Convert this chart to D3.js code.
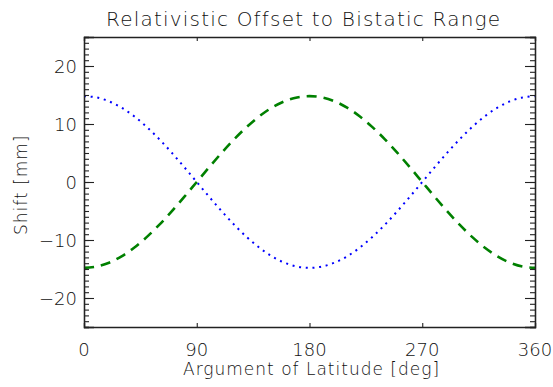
<!DOCTYPE html>
<html><head><meta charset="utf-8">
<script src="https://cdn.jsdelivr.net/npm/d3@7"></script>
<style>
body{margin:0;background:#fff;}
text{font-family:"DejaVu Sans",sans-serif;font-weight:200;fill:#111;}
</style></head>
<body><svg id="c" width="553" height="387"></svg>
<script>
const latitude = [0,10,20,30,40,50,60,70,80,90,100,110,120,130,140,150,160,170,180,190,200,210,220,230,240,250,260,270,280,290,300,310,320,330,340,350,360];
const blueShift = [14.8,14.58,13.91,12.82,11.34,9.51,7.4,5.06,2.57,0,-2.57,-5.06,-7.4,-9.51,-11.34,-12.82,-13.91,-14.58,-14.8,-14.58,-13.91,-12.82,-11.34,-9.51,-7.4,-5.06,-2.57,0,2.57,5.06,7.4,9.51,11.34,12.82,13.91,14.58,14.8];
const greenShift = [-14.8,-14.58,-13.91,-12.82,-11.34,-9.51,-7.4,-5.06,-2.57,0,2.57,5.06,7.4,9.51,11.34,12.82,13.91,14.58,14.8,14.58,13.91,12.82,11.34,9.51,7.4,5.06,2.57,0,-2.57,-5.06,-7.4,-9.51,-11.34,-12.82,-13.91,-14.58,-14.8];
const xTicks = [0,90,180,270,360];
const yTicks = [-20,-10,0,10,20];
const title = "Relativistic Offset to Bistatic Range";
const xLabel = "Argument of Latitude [deg]";
const yLabel = "Shift [mm]";

const L=84,R=535,T=37,B=327;
const svg=d3.select("#c");
const x=d3.scaleLinear().domain([0,360]).range([L,R]);
const y=d3.scaleLinear().domain([-25,25]).range([B,T]);
const axColor="#222";

// lines
const mk=(vals)=>d3.line().x((d,i)=>x(latitude[i])).y(d=>y(d)).curve(d3.curveCatmullRom)(vals);
svg.append("path").attr("d",mk(blueShift)).attr("fill","none").attr("stroke","#0000ff")
  .attr("stroke-width",2).attr("stroke-dasharray","2,4.7");
svg.append("path").attr("d",mk(greenShift)).attr("fill","none").attr("stroke","#008000")
  .attr("stroke-width",2.6).attr("stroke-dasharray","10,7");

// axes
const yMinor=d3.range(-25,26,1);
svg.append("g").attr("transform",`translate(0,${B})`).call(d3.axisBottom(x).tickValues(xTicks).tickSize(-4).tickFormat(""));
svg.append("g").attr("transform",`translate(0,${T})`).call(d3.axisTop(x).tickValues(xTicks).tickSize(-4).tickFormat(""));
svg.append("g").attr("transform",`translate(${L},0)`).call(d3.axisLeft(y).tickValues(yMinor).tickSize(-5).tickFormat(""));
svg.append("g").attr("transform",`translate(${L},0)`).call(d3.axisLeft(y).tickValues(yTicks).tickSize(-10).tickFormat(""));
svg.append("g").attr("transform",`translate(${R},0)`).call(d3.axisRight(y).tickValues(yMinor).tickSize(-5).tickFormat(""));
svg.append("g").attr("transform",`translate(${R},0)`).call(d3.axisRight(y).tickValues(yTicks).tickSize(-10).tickFormat(""));
svg.selectAll(".domain").attr("stroke",axColor).attr("stroke-width",1.3);
svg.selectAll(".tick line").attr("stroke",axColor).attr("stroke-width",1.1);

// tick labels
svg.append("g").selectAll("text").data(xTicks).join("text")
  .attr("x",d=>x(d)).attr("y",356).attr("text-anchor","middle")
  .attr("font-size",18).text(d=>d);
svg.append("g").selectAll("text").data(yTicks).join("text")
  .attr("x",77).attr("y",d=>y(d)+6.5).attr("text-anchor","end")
  .attr("font-size",18).text(d=>d<0?"\u2212"+Math.abs(d):d);

svg.append("text").attr("x",106).attr("y",26).attr("text-anchor","start")
  .attr("font-size",20).attr("letter-spacing",1.2).text(title);
svg.append("text").attr("x",183).attr("y",375).attr("text-anchor","start")
  .attr("font-size",17).attr("letter-spacing",1).text(xLabel);
svg.append("text").attr("transform",`translate(27,235) rotate(-90)`).attr("text-anchor","start")
  .attr("font-size",17).attr("letter-spacing",1).text(yLabel);
</script></body></html>
